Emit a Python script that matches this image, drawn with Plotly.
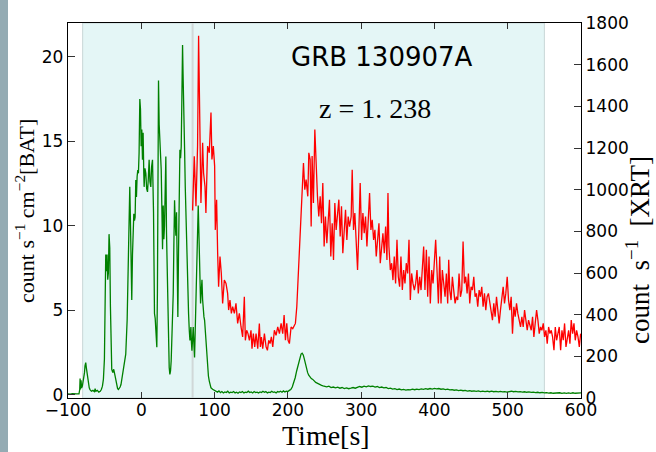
import plotly.graph_objects as go

# ---------------- data ----------------
bat_t = [-100, -97, -94, -91, -88, -85, -84, -83.5, -83, -82.2, -81.5, -80.4, -79.5, -78.5, -77.5, -76.8,
         -75.8, -75, -74, -73, -72.2, -71, -70, -68, -66, -64, -63, -62, -60, -58, -56, -54.5, -53, -51.7,
         -50.3, -49.4, -48.5, -47.6, -46.7, -45.8, -44.9, -44.0, -43.0, -42.1, -41.2, -40.3, -38.9, -37.6,
         -35.7, -33.5, -32.3, -31.2, -30, -28.9, -27.7, -26.6, -25.5, -24.4, -23.0, -21.2, -19.3, -18.4,
         -17.5, -16.6, -15.7, -14.8, -13.9, -13.0, -12.0, -11.1, -10.2, -9.3, -8.4, -7.5, -6.6, -5.7, -4.8,
         -3.9, -3.0, -2.0, -1.1, -0.2, 0.7, 1.6, 2.5, 3.4, 3.9, 5.0, 6.2, 7.3, 8.5, 9.6, 10.7, 11.8, 13.0,
         14.1, 15.3, 16.7, 17.4, 18.0, 19.0, 19.9, 21.2, 22.0, 22.6, 23.5, 24.4, 25.3, 26.2, 27.2, 28.1,
         29.0, 29.9, 30.8, 31.7, 32.6, 33.5, 34.4, 35.3, 36.3, 37.2, 38.1, 39.0, 39.9, 40.8, 41.7, 42.7,
         43.6, 44.5, 45.4, 46.3, 47.2, 48.1, 49.0, 49.9, 50.8, 51.7, 52.7, 53.6, 54.5, 55.4, 56.3, 57.0,
         57.7, 58.4, 59.1, 60.0, 60.9, 61.8, 62.7, 63.6, 64.5, 65.5, 66.4, 67.0, 67.7, 68.4, 69.1, 70.0,
         70.9, 71.8, 72.7, 73.6, 74.6, 75.5, 76.4, 77.7, 78.4, 79.1, 80.0, 80.9, 81.8, 82.8, 83.7, 84.6,
         85.5, 86.4, 87.3, 88.2, 89.4, 90.5, 91.6, 92.8, 94.0, 95.1, 97.3, 99.6,
         102, 104, 106, 108, 110, 112, 114, 116, 118, 120, 122, 124, 126, 128, 130, 132, 134, 136, 138,
         140, 142, 144, 146, 148, 150, 152, 154, 156, 158, 160, 162, 164, 166, 168, 170, 172, 174, 176,
         178, 180, 182, 184, 186, 188, 190, 192, 194, 196, 198, 200, 202, 204, 206, 208, 210, 212, 214,
         216, 218, 219.5, 221, 222.5, 224, 225.5, 227, 228.5, 230, 232, 234, 236, 238, 240, 242, 244, 246,
         248, 250, 253, 256, 259, 262, 265, 268, 271, 274, 277, 280, 283, 286, 289, 292, 295, 298, 301,
         304, 307, 310, 313, 316, 319, 322, 325, 328, 331, 334, 337, 340, 343, 346, 349, 352, 355, 358,
         361, 364, 367, 370, 373, 376, 379, 382, 385, 388, 391, 394, 397, 400, 403, 406, 409, 412, 415,
         418, 421, 424, 427, 430, 433, 436, 439, 442, 445, 448, 451, 454, 457, 460, 463, 466, 469, 472,
         475, 478, 481, 484, 487, 490, 493, 496, 499, 502, 505, 508, 511, 514, 517, 520, 523, 526, 529,
         532, 535, 538, 541, 544, 547, 550, 553, 556, 559, 562, 565, 568, 571, 574, 577, 580, 583, 586,
         589, 592, 595, 598, 600]
bat_rate = [0.05, 0.03, 0.06, 0.04, 0.05, 0.05, 0.3, 0.95, 0.3, 0.85, 0.4, 0.5, 0.7, 1.1, 1.3, 1.7,
            1.9, 1.6, 1.3, 0.9, 0.6, 0.4, 0.3, 0.2, 0.25, 0.18, 0.35, 0.2, 0.25, 0.15, 0.2, 0.3, 0.5, 0.9,
            2.1, 4.4, 8.3, 7.3, 8.3, 6.8, 7.2, 9.5, 8.7, 5.2, 2.7, 1.5, 1.3, 1.5,
            1.1, 0.5, 0.35, 0.3, 0.35, 0.45, 0.6, 0.9, 1.1, 1.3, 1.7, 2.4, 4.4, 6.4,
            10.3, 10.5, 12.3, 10.3, 7.9, 5.6, 8.3, 9.9, 10.7, 10.3, 10.5, 12.7, 11.7, 12.9, 13.3,
            13.1, 14.3, 17.5, 16.9, 14.7, 15.7, 13.9, 15.5, 13.1, 12.3, 13.4, 13.1, 12.2, 12.0, 12.8, 13.9, 12.6, 12.3,
            13.5, 13.9, 10.8, 7.0, 4.8, 4.5, 4.0, 2.8, 6.0, 10.4, 18.6, 16.0, 15.3, 14.5, 13.3, 11.0,
            8.6, 11.2, 9.2, 10.0, 12.5, 14.1, 9.6, 7.5, 5.6, 3.0, 1.6, 1.2, 1.4, 2.0, 3.2, 4.5,
            6.0, 9.0, 11.5, 10.2, 9.4, 10.8, 7.5, 4.6, 8.4, 11.5, 14.5, 14.0, 14.7, 17.6, 20.7, 19.0,
            17.9, 16.2, 14.5, 12.3, 10.4, 9.0, 8.0, 6.2, 4.8, 3.8, 3.2, 3.6, 4.0, 3.1, 2.6, 3.3,
            4.0, 3.0, 2.2, 3.8, 6.0, 8.0, 9.8, 11.2, 10.0, 8.8, 6.5, 5.4, 6.1, 6.8, 5.6, 4.8,
            4.6, 4.4, 3.8, 3.2, 2.3, 1.6, 1.1, 0.8, 0.55, 0.4, 0.32, 0.27,
            0.2, 0.15, 0.22, 0.12, 0.18, 0.1, 0.16, 0.12, 0.2, 0.1, 0.15, 0.12, 0.18, 0.1, 0.14, 0.08, 0.16, 0.12, 0.18,
            0.1, 0.15, 0.12, 0.2, 0.12, 0.16, 0.1, 0.18, 0.12, 0.15, 0.1, 0.16, 0.12, 0.2, 0.14, 0.18, 0.1, 0.15, 0.12,
            0.2, 0.14, 0.16, 0.1, 0.18, 0.15, 0.2, 0.14, 0.22, 0.16, 0.2, 0.18, 0.25, 0.3, 0.45, 0.7, 1.0, 1.4, 1.8,
            2.2, 2.4, 2.45, 2.35, 2.1, 1.8, 1.5, 1.3, 1.15, 1.05, 0.95, 0.9, 0.8, 0.72, 0.68, 0.62, 0.6, 0.55,
            0.52, 0.5, 0.46, 0.5, 0.42, 0.45, 0.4, 0.44, 0.38, 0.42, 0.36, 0.4, 0.35, 0.38, 0.42, 0.38, 0.44, 0.48, 0.44,
            0.5, 0.46, 0.52, 0.48, 0.5, 0.45, 0.48, 0.42, 0.45, 0.4, 0.42, 0.36, 0.38, 0.33, 0.35, 0.3, 0.33, 0.28, 0.31,
            0.27, 0.3, 0.28, 0.32, 0.29, 0.33, 0.3, 0.34, 0.31, 0.35, 0.32, 0.36, 0.33, 0.37, 0.34, 0.36, 0.32, 0.34, 0.3,
            0.32, 0.28, 0.3, 0.26, 0.28, 0.24, 0.27, 0.23, 0.25, 0.21, 0.23, 0.2, 0.22, 0.19, 0.22, 0.18, 0.21, 0.18, 0.2,
            0.17, 0.2, 0.17, 0.19, 0.16, 0.19, 0.16, 0.18, 0.15, 0.18, 0.2, 0.17, 0.19, 0.16, 0.18, 0.15, 0.17, 0.14, 0.16,
            0.13, 0.15, 0.12, 0.14, 0.11, 0.13, 0.1, 0.12, 0.09, 0.11, 0.08, 0.1, 0.08, 0.11, 0.08, 0.1, 0.07, 0.1, 0.08,
            0.11, 0.08, 0.1, 0.08, 0.1]

xrt_t = [70.0, 71.0, 72.3, 74.6, 76.8, 78.2, 80.0, 81.4, 83.7, 85.0, 86.9, 88.2, 90.5, 92.8, 95.1, 96.4,
         98.3, 100.1, 101.0, 102.8, 104.2, 105.5, 107.4, 109.2, 111.0, 113.3, 115.6, 117.8, 119.2, 121.0,
         122.9, 124.7, 127.0, 129.2, 131.5, 133.8, 136.1, 138.3, 140.6, 142.0, 143.8, 145.6, 147.5, 149.7,
         151.1, 152.9, 154.8, 156.6, 158.9, 161.1, 162.5, 163.9, 165.7, 168.0, 170.3, 172.1, 173.9, 175.7,
         177.5, 179.4, 181.6, 183.9, 186.2, 188.5, 190.8, 193.0, 194.9, 196.7, 198.5, 200.3, 202.1, 204.4,
         206.7, 210.3, 212.2, 214.0,
         215.8, 217.2, 219.4, 221.3, 223.1, 224.9, 227.2, 228.6, 230.4, 231.8, 233.1, 234.9, 236.8, 238.6,
         240.4, 242.2, 244.1, 245.9, 247.7, 249.5, 251.3, 253.2, 255.0, 256.8, 258.6, 260.5, 262.3, 264.1,
         265.9, 267.8, 269.6, 271.4, 273.2, 275.0, 276.9, 278.7, 280.5, 282.3, 284.2, 286.4, 287.8, 289.6,
         291.4, 293.3, 295.1, 296.9, 298.7, 300.6, 302.4, 304.2, 306.0, 307.9, 309.7, 311.5, 313.3, 315.1,
         317.0, 318.8, 320.6, 322.4, 324.3, 326.1, 327.9, 329.7, 331.6, 333.4, 335.2, 336.6, 337.9, 339.8,
         341.6, 343.4, 345.2, 347.0, 348.9, 350.7, 352.5, 354.3, 356.2, 358.0, 359.8, 361.6, 363.5, 365.3,
         367.1, 368.9, 370.7, 372.6, 374.4, 376.2, 378.0, 379.9, 381.7, 383.5, 385.3, 387.1, 389.0, 390.8,
         392.6, 394.4, 396.3, 398.1, 399.9, 401.7, 403.5, 405.4, 407.2,
         409.0, 410.8, 412.7, 414.5, 416.3, 418.1, 419.5, 420.9, 422.7, 424.5, 426.3, 428.2, 430.0, 431.8,
         433.6, 435.5, 437.3, 439.1, 440.9, 442.7, 444.6, 446.4, 448.2, 450.0, 451.9, 453.7, 455.5, 457.3,
         459.1, 461.0, 462.8, 464.6, 466.4, 468.3, 470.1, 471.9, 473.7, 475.6, 477.4, 479.2, 481.0, 482.8,
         484.7, 486.5, 488.3, 490.1, 492.0, 493.8, 495.6, 497.4, 499.3, 501.1, 502.9, 504.7, 506.5, 508.4,
         510.2, 512.0, 513.8, 515.7, 517.5, 519.3, 521.1, 523.0, 524.8, 526.6, 528.4, 530.2, 532.1, 533.9,
         535.7, 537.5, 539.4, 541.2, 543.0, 544.8, 546.6, 548.5, 550.3, 552.1, 553.9, 555.8, 557.6, 559.4,
         561.2, 563.1, 564.9, 566.7, 568.5, 570.3, 572.2, 574.0, 575.8, 577.6, 579.5, 581.3, 583.1, 584.9,
         586.7, 588.6, 590.4, 592.2, 594.0, 595.9, 597.7, 599.5]
xrt_rate = [900, 1016, 1160, 920, 1209, 1739, 1273, 936, 1225, 1080, 1016, 888, 1209, 1177, 1370, 1145,
            1209, 1113, 807, 952, 695, 534, 679, 599, 454, 566, 550, 502, 422, 470,
            406, 438, 406, 454, 358, 406, 341, 293, 486, 277, 325, 309, 277, 325,
            237, 309, 245, 309, 237, 358, 245, 293, 237, 309, 245, 229, 277, 261,
            293, 245, 325, 301, 341, 309, 358, 309, 398, 277, 358, 277, 261, 341,
            333, 358, 438, 566,
            695, 773, 968, 1128, 1000, 1048, 968, 1177, 1145, 823, 1161, 936, 1289, 1096,
            968, 871, 968, 839, 1032, 727, 871, 743, 839, 952, 679, 839, 663, 936,
            807, 888, 952, 775, 920, 695, 807, 904, 759, 871, 823, 871, 1096, 807,
            888, 759, 614, 807, 1032, 759, 888, 791, 871, 727, 904, 984, 807, 855,
            759, 807, 679, 743, 839, 647, 711, 791, 695, 823, 663, 984, 727, 614,
            647, 566, 679, 550, 759, 582, 534, 679, 518, 614, 550, 647, 598, 759,
            470, 598, 550, 518, 550, 614, 502, 582, 518, 647, 727, 518, 711, 486,
            679, 454, 614, 550, 647, 759, 614, 454, 679,
            454, 614, 534, 486, 598, 454, 663, 518, 470, 582, 518, 454, 486, 470,
            598, 486, 518, 751, 550, 582, 502, 598, 454, 534, 518, 582, 486, 502,
            438, 518, 486, 534, 438, 502, 422, 486, 502, 454, 422, 374, 454, 390,
            486, 406, 358, 422, 486, 534, 454, 502, 582, 470, 422, 486, 309, 438,
            390, 454, 406, 374, 341, 390, 341, 422, 358, 325, 374, 341, 325, 390,
            293, 358, 422, 374, 309, 341, 325, 358, 293, 325, 261, 341, 309, 325,
            293, 229, 341, 277, 309, 341, 229, 325, 277, 358, 245, 293, 325, 261,
            374, 309, 358, 277, 325, 293, 245, 309]

x_ticks = [-100, 0, 100, 200, 300, 400, 500, 600]
bat_ticks = [0, 5, 10, 15, 20]
xrt_ticks = [0, 200, 400, 600, 800, 1000, 1200, 1400, 1600, 1800]
span_start, span_end = -80, 550
marker_time = 70

# ---------------- figure ----------------
W, H = 656, 452
ML, MR, MT, MB = 68, 75, 23, 54
PW, PH = W - ML - MR, H - MT - MB


def px(xp):
    return (xp - ML) / PW


def py(yp):
    return (H - MB - yp) / PH


fig = go.Figure()
fig.add_trace(go.Scatter(x=bat_t, y=bat_rate, mode="lines",
                         line=dict(color="#008000", width=1.3), yaxis="y", showlegend=False))
fig.add_trace(go.Scatter(x=xrt_t, y=xrt_rate, mode="lines",
                         line=dict(color="#ff0000", width=1.3), yaxis="y2", showlegend=False))

# shaded interval and marker line
fig.add_shape(type="rect", xref="x", yref="paper", x0=span_start, x1=span_end, y0=0, y1=1,
              fillcolor="rgb(228,246,246)", line=dict(color="rgba(200,214,214,1)", width=1),
              layer="below")
fig.add_shape(type="line", xref="x", yref="paper", x0=marker_time, x1=marker_time, y0=0, y1=1,
              line=dict(color="rgb(208,216,216)", width=2), layer="below")

# slide background strip at the left edge
fig.add_shape(type="rect", xref="paper", yref="paper", x0=px(0), x1=px(8), y0=py(H + 5), y1=py(-5),
              fillcolor="#94abb3", line=dict(width=0), layer="below")

tickfont = dict(family="DejaVu Sans", size=17, color="black")
fig.update_layout(
    width=W, height=H,
    margin=dict(l=ML, r=MR, t=MT, b=MB, pad=0),
    paper_bgcolor="white", plot_bgcolor="white",
    xaxis=dict(range=[-100, 600], tickvals=x_ticks, ticks="inside", ticklen=6, tickwidth=1,
               tickcolor="#333", showline=True, linecolor="black", linewidth=1.3, mirror="ticks",
               showgrid=False, zeroline=False, tickfont=tickfont, ticklabelstandoff=-4),
    yaxis=dict(range=[-0.2, 22], tickvals=bat_ticks, ticks="inside", ticklen=7, tickwidth=1,
               tickcolor="#333", showline=True, linecolor="black", linewidth=1.3,
               showgrid=False, zeroline=False, tickfont=tickfont),
    yaxis2=dict(range=[0, 1800], tickvals=xrt_ticks, overlaying="y", side="right", ticks="inside",
                ticklen=7, tickwidth=1, tickcolor="#333", showline=True, linecolor="black",
                linewidth=1.3, showgrid=False, zeroline=False, tickfont=tickfont),
)

serif = "Liberation Serif"
fig.add_annotation(xref="paper", yref="paper", x=px(382), y=py(57), text="GRB 130907A",
                   showarrow=False, xanchor="center", yanchor="middle",
                   font=dict(family="DejaVu Sans", size=26, color="black"))
fig.add_annotation(xref="paper", yref="paper", x=px(375), y=py(108), text="z = 1. 238",
                   showarrow=False, xanchor="center", yanchor="middle",
                   font=dict(family=serif, size=28, color="black"))
fig.add_annotation(xref="paper", yref="paper", x=px(326), y=py(435), text="Time[s]",
                   showarrow=False, xanchor="center", yanchor="middle",
                   font=dict(family=serif, size=28, color="black"))
fig.add_annotation(xref="paper", yref="paper", x=px(25), y=py(211),
                   text="count s<sup>−1</sup> cm<sup>−2</sup>[BAT]", textangle=-90,
                   showarrow=False, xanchor="center", yanchor="middle",
                   font=dict(family=serif, size=22, color="black"))
fig.add_annotation(xref="paper", yref="paper", x=px(638), y=py(250),
                   text="count\u2002s<sup>−1</sup>\u2002[XRT]", textangle=-90,
                   showarrow=False, xanchor="center", yanchor="middle",
                   font=dict(family=serif, size=27, color="black"))

fig.write_html("out.html")
